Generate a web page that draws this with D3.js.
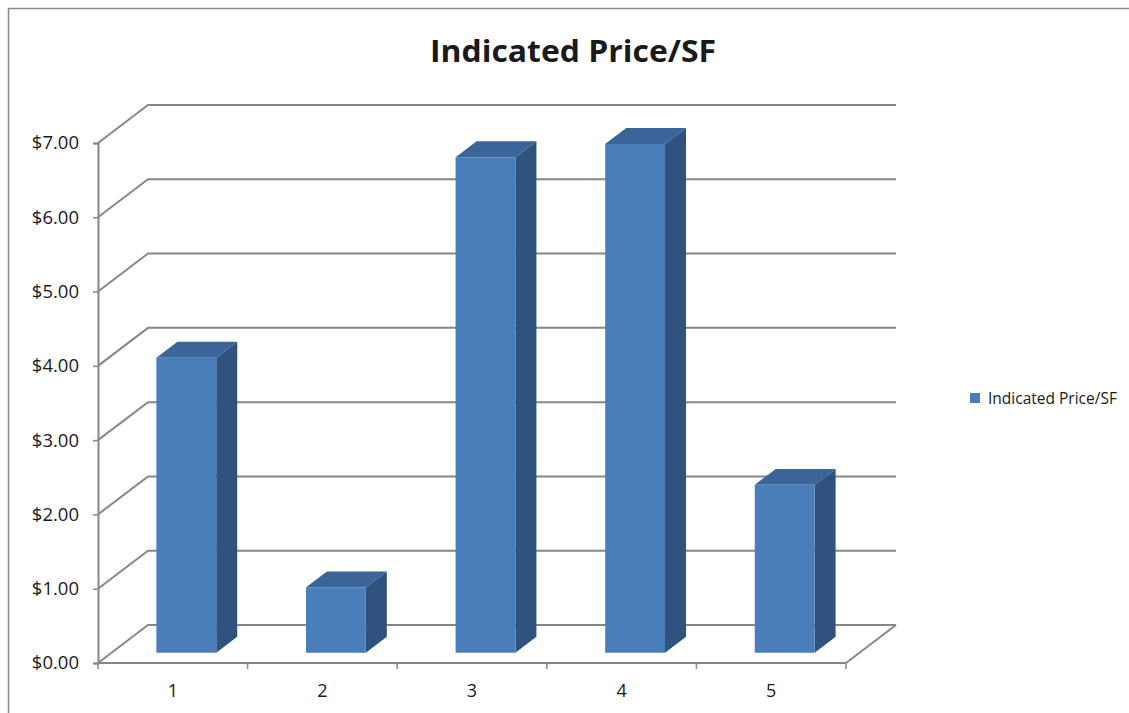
<!DOCTYPE html>
<html>
<head>
<meta charset="utf-8">
<script src="https://cdn.jsdelivr.net/npm/d3@7"></script>
<style>
  body { margin: 0; background: #fff; }
  text { font-family: 'Open Sans', sans-serif; fill: #1a1a1a; }
</style>
</head>
<body>
<div id="chart"></div>
<script>
const categories = ['1', '2', '3', '4', '5'];
const prices = [3.97, 0.88, 6.67, 6.85, 2.26];
const yTicks = [0, 1, 2, 3, 4, 5, 6, 7];
const seriesName = 'Indicated Price/SF';

const W = 1129, H = 713;
const front = { left: 98, right: 846, top: 143, bottom: 663 };
const depth = { dx: 50, dy: -38 };      // offset of the back wall
const barFront = 0.27, barDepth = 0.42;  // fractions of the depth
const gridColor = '#878787';
const faceFront = '#4a7ebb', faceTop = '#3b6499', faceSide = '#30527f';

var svg = d3.select('#chart').append('svg')
  .attr('width', W)
  .attr('height', H);

const xScale = d3.scaleBand()
  .domain(categories)
  .range([front.left, front.right])
  .paddingInner(0.6)
  .paddingOuter(0.3);
const yScale = d3.scaleLinear()
  .domain([0, 7])
  .range([front.bottom, front.top]);

// point in the 3d box: px on the front plane, value, depth fraction
const pt = (px, v, z) => [px + depth.dx * z, yScale(v) + depth.dy * z];
const poly = pts => pts.map(p => p.join(',')).join(' ');

// outer frame
svg.append('path')
  .attr('d', `M8.5,${H} V8.5 H${W}`)
  .attr('fill', 'none')
  .attr('stroke', '#8a8a8a')
  .attr('stroke-width', 1.5);

// gridlines: left wall diagonal + back wall line
var grid = svg.append('g');
yTicks.forEach(v => {
  const a = pt(front.left, v, 0), b = pt(front.left, v, 1), c = pt(front.right, v, 1);
  grid.append('polyline')
    .attr('points', poly([a, b, c]))
    .attr('fill', 'none')
    .attr('stroke', gridColor)
    .attr('stroke-width', 2);
});

// floor right edge
grid.append('line')
  .attr('x1', pt(front.right, 0, 0)[0]).attr('y1', pt(front.right, 0, 0)[1])
  .attr('x2', pt(front.right, 0, 1)[0]).attr('y2', pt(front.right, 0, 1)[1])
  .attr('stroke', gridColor)
  .attr('stroke-width', 2);

// bars
var bars = svg.append('g')
  .selectAll('g.bar')
  .data(prices)
  .enter().append('g')
  .attr('class', 'bar');

bars.append('polygon') // side
  .attr('points', (d, i) => {
    const x1 = xScale(categories[i]) + xScale.bandwidth();
    return poly([pt(x1, 0, barFront), pt(x1, d, barFront),
                 pt(x1, d, barFront + barDepth), pt(x1, 0, barFront + barDepth)]);
  })
  .attr('fill', faceSide);

bars.append('polygon') // top
  .attr('points', (d, i) => {
    const x0 = xScale(categories[i]), x1 = x0 + xScale.bandwidth();
    return poly([pt(x0, d, barFront), pt(x1, d, barFront),
                 pt(x1, d, barFront + barDepth), pt(x0, d, barFront + barDepth)]);
  })
  .attr('fill', faceTop);

bars.append('polygon') // front
  .attr('points', (d, i) => {
    const x0 = xScale(categories[i]), x1 = x0 + xScale.bandwidth();
    return poly([pt(x0, 0, barFront), pt(x1, 0, barFront),
                 pt(x1, d, barFront), pt(x0, d, barFront)]);
  })
  .attr('fill', faceFront);

// y axis
var yAxis = d3.axisLeft(yScale)
  .tickValues(yTicks)
  .tickSize(5)
  .tickPadding(14)
  .tickFormat(d3.format('$.2f'));

var yg = svg.append('g')
  .attr('transform', 'translate(' + front.left + ',0)')
  .call(yAxis);
yg.select('.domain').attr('stroke', gridColor).attr('stroke-width', 2);
yg.selectAll('.tick line').attr('stroke', gridColor).attr('stroke-width', 1.5);
yg.selectAll('.tick text')
  .attr('font-family', "'Open Sans', sans-serif")
  .attr('font-size', 18.5)
  .attr('fill', '#1a1a1a');

// x axis
var xAxisScale = d3.scalePoint()
  .domain(d3.range(categories.length + 1))
  .range([front.left, front.right]);
var xg = svg.append('g')
  .attr('transform', 'translate(0,' + front.bottom + ')');
xg.append('line')
  .attr('x1', front.left).attr('x2', front.right)
  .attr('stroke', gridColor)
  .attr('stroke-width', 2);
xg.selectAll('line.tick')
  .data(xAxisScale.domain())
  .enter().append('line')
  .attr('class', 'tick')
  .attr('x1', d => xAxisScale(d)).attr('x2', d => xAxisScale(d))
  .attr('y1', 0).attr('y2', 6)
  .attr('stroke', gridColor)
  .attr('stroke-width', 1.5);
xg.selectAll('text')
  .data(categories)
  .enter().append('text')
  .attr('x', d => xScale(d) + xScale.bandwidth() / 2)
  .attr('y', 34)
  .attr('text-anchor', 'middle')
  .attr('font-size', 18)
  .text(d => d);

// title
svg.append('text')
  .attr('x', 573)
  .attr('y', 62)
  .attr('text-anchor', 'middle')
  .attr('font-size', 31)
  .attr('font-weight', 'bold')
  .attr('textLength', 286)
  .attr('lengthAdjust', 'spacingAndGlyphs')
  .text(seriesName);

// legend
var legend = svg.append('g')
  .attr('class', 'legend');
legend.append('rect')
  .attr('x', 970)
  .attr('y', 393)
  .attr('width', 10)
  .attr('height', 10)
  .attr('fill', faceFront);
legend.append('text')
  .attr('x', 988)
  .attr('y', 404)
  .attr('font-size', 15.5)
  .text(seriesName);
</script>
</body>
</html>
